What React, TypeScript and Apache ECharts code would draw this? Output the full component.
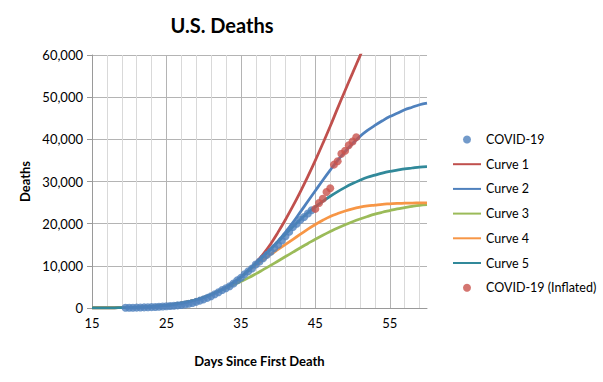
import { useEffect, useRef } from 'react';
import * as echarts from 'echarts';

const FONT = 'Lato';

const covidDays = [19.5, 20, 20.5, 21, 21.5, 22, 22.5, 23, 23.5, 24, 24.5, 25, 25.5, 26, 26.5, 27, 27.5, 28, 28.5, 29, 29.5, 30, 30.5, 31, 31.5, 32, 32.5, 33, 33.5, 34, 34.5, 35, 35.5, 36, 36.5, 37, 37.5, 38, 38.5, 39, 39.5, 40, 40.5, 41, 41.5, 42, 42.5, 43, 43.5, 44, 44.5];
const covidDeaths = [40, 55, 70, 90, 110, 140, 170, 210, 250, 300, 360, 420, 480, 540, 620, 720, 850, 1000, 1200, 1450, 1750, 2050, 2400, 2800, 3250, 3750, 4250, 4700, 5150, 5800, 6550, 7150, 8000, 8700, 9350, 10300, 11000, 11800, 12600, 13350, 14250, 15000, 16000, 17000, 18100, 19200, 20000, 20900, 21600, 22400, 23200];

const inflatedDays = [45, 45.5, 46, 46.5, 47, 47.5, 48, 48.5, 49, 49.5, 50, 50.5];
const inflatedDeaths = [23500, 24900, 25900, 27500, 28400, 34000, 34800, 36600, 37300, 38600, 39500, 40500];

const curveDays = [15, 16, 17, 18, 19, 20, 21, 22, 23, 24, 25, 26, 27, 28, 29, 30, 31, 32, 33, 34, 35, 36, 37, 38, 39, 40, 41, 42, 43, 44, 45, 46, 47, 48, 49, 50, 51, 52, 53, 54, 55, 56, 57, 58, 59, 60];

const curve1 = [10, 18, 30, 50, 80, 120, 175, 250, 350, 480, 650, 870, 1150, 1500, 1950, 2500, 3150, 3950, 4900, 6000, 7300, 8900, 10700, 12800, 15200, 18000, 21000, 24200, 27600, 31200, 35000, 39000, 43100, 47400, 51600, 55700, 59800, 63900];
const curve2 = [10, 18, 30, 50, 80, 120, 175, 250, 350, 480, 650, 870, 1150, 1500, 1950, 2500, 3150, 3950, 4900, 6000, 7300, 8900, 10500, 12200, 14000, 15900, 18000, 20300, 22800, 25300, 27800, 30300, 32700, 35000, 37100, 39000, 40700, 42100, 43300, 44400, 45400, 46200, 47000, 47600, 48200, 48600];
const curve3 = [10, 18, 30, 50, 80, 120, 175, 250, 350, 480, 650, 870, 1150, 1500, 1950, 2500, 3150, 3950, 4700, 5500, 6300, 7150, 8100, 9100, 10100, 11150, 12200, 13250, 14300, 15300, 16300, 17250, 18150, 19000, 19750, 20450, 21100, 21700, 22250, 22700, 23100, 23500, 23800, 24100, 24350, 24500];
const curve4 = [10, 18, 30, 50, 80, 120, 175, 250, 350, 480, 650, 870, 1150, 1500, 1950, 2500, 3150, 3950, 4900, 6000, 7300, 8800, 10100, 11400, 12700, 13900, 15100, 16300, 17500, 18700, 19800, 20800, 21700, 22400, 23000, 23500, 23900, 24200, 24400, 24600, 24700, 24800, 24850, 24900, 24920, 24950];
const curve5 = [10, 18, 30, 50, 80, 120, 175, 250, 350, 480, 650, 870, 1150, 1500, 1950, 2500, 3150, 3950, 4900, 6000, 7300, 8900, 10500, 12200, 13900, 15700, 17500, 19300, 21000, 22600, 24000, 25300, 26500, 27600, 28600, 29500, 30300, 31000, 31500, 32000, 32400, 32700, 33000, 33200, 33400, 33500];

const xTickLabels = [15, 25, 35, 45, 55];

const pairs = (xs: number[], ys: number[]) => ys.map((y, i) => [xs[i], y]);

const curveSeries = [
  { name: 'Curve 1', data: curve1, color: '#C0504D' },
  { name: 'Curve 2', data: curve2, color: '#4F81BD' },
  { name: 'Curve 3', data: curve3, color: '#9BBB59' },
  { name: 'Curve 4', data: curve4, color: '#F79646' },
  { name: 'Curve 5', data: curve5, color: '#31899A' },
];

export default function App() {
  const ref = useRef<HTMLDivElement>(null);
  useEffect(() => {
    const chart = echarts.init(ref.current!, null, { renderer: 'svg' });
    chart.setOption({
      animation: false,
      backgroundColor: '#fff',
      textStyle: { fontFamily: FONT },
      title: {
        text: 'U.S. Deaths',
        left: 217,
        top: 10,
        textAlign: 'center',
        textStyle: { fontFamily: FONT, fontSize: 20, fontWeight: 'bold', color: '#000' },
      },
      grid: { left: 92, right: 176, top: 55, bottom: 74 },
      legend: {
        orient: 'vertical',
        left: 452,
        top: 133,
        padding: 0,
        itemWidth: 28,
        itemHeight: 8,
        itemGap: 11.7,
        textStyle: { fontFamily: FONT, fontSize: 12.5, color: '#000' },
        data: [
          { name: 'COVID-19' },
          ...curveSeries.map((c) => ({ name: c.name, itemStyle: { opacity: 0 } })),
          { name: 'COVID-19 (Inflated)' },
        ],
      },
      xAxis: {
        type: 'value',
        min: 15,
        max: 60,
        interval: 2,
        name: 'Days Since First Death',
        nameLocation: 'middle',
        nameGap: 46,
        nameTextStyle: { fontFamily: FONT, fontSize: 13, fontWeight: 'bold', color: '#000' },
        axisLine: { lineStyle: { color: '#9a9a9a', width: 1 } },
        axisTick: { show: false },
        axisLabel: {
          margin: 8,
          fontFamily: FONT,
          fontSize: 13,
          color: '#000',
          showMaxLabel: false,
          formatter: (v: number) => (xTickLabels.includes(v) ? String(v) : ''),
        },
        splitLine: {
          show: true,
          showMaxLine: false,
          lineStyle: { color: ['#b4b4b4', '#d9d9d9', '#d9d9d9', '#d9d9d9', '#d9d9d9'], width: 1 },
        },
      },
      yAxis: {
        type: 'value',
        min: 0,
        max: 60000,
        interval: 10000,
        name: 'Deaths',
        nameLocation: 'middle',
        nameRotate: 90,
        nameGap: 58,
        nameTextStyle: { fontFamily: FONT, fontSize: 13, fontWeight: 'bold', color: '#000' },
        axisLine: { show: true, lineStyle: { color: '#9a9a9a', width: 1 } },
        axisTick: { show: true, length: 5, lineStyle: { color: '#9a9a9a' } },
        axisLabel: {
          margin: 9,
          fontFamily: FONT,
          fontSize: 13,
          color: '#000',
          formatter: (v: number) => v.toLocaleString('en-US'),
        },
        splitLine: { show: true, lineStyle: { color: '#b4b4b4', width: 1 } },
      },
      series: [
        ...curveSeries.map((c) => ({
          name: c.name,
          type: 'line',
          data: pairs(curveDays, c.data),
          smooth: 0.4,
          symbol: 'none',
          clip: true,
          lineStyle: { color: c.color, width: 2.75 },
          itemStyle: { color: c.color },
        })),
        {
          name: 'COVID-19',
          type: 'scatter',
          data: pairs(covidDays, covidDeaths),
          symbol: 'circle',
          symbolSize: 8,
          itemStyle: { color: '#4F81BD' },
          z: 3,
        },
        {
          name: 'COVID-19 (Inflated)',
          type: 'scatter',
          data: pairs(inflatedDays, inflatedDeaths),
          symbol: 'circle',
          symbolSize: 8,
          itemStyle: { color: '#C9534C' },
          z: 3,
        },
      ],
    });
    return () => chart.dispose();
  }, []);
  return <div ref={ref} style={{ position: 'fixed', left: 0, top: 0, width: 603, height: 382 }} />;
}
